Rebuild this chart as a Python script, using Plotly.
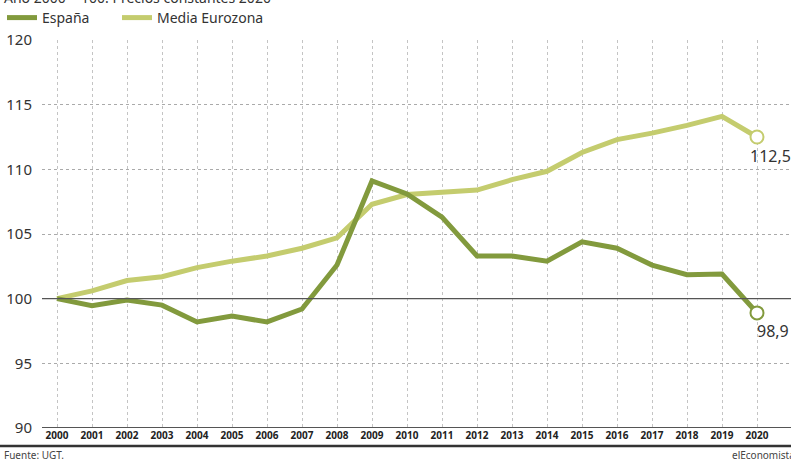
import plotly.graph_objects as go

years = list(range(2000, 2021))
espana = [100, 99.45, 99.9, 99.5, 98.2, 98.65, 98.2, 99.2, 102.6, 109.1, 108.1,
          106.3, 103.3, 103.3, 102.9, 104.4, 103.9, 102.6, 101.85, 101.9, 98.9]
eurozona = [100, 100.6, 101.4, 101.7, 102.4, 102.9, 103.3, 103.9, 104.7, 107.3, 108.05,
            108.2, 108.4, 109.2, 109.85, 111.3, 112.3, 112.8, 113.4, 114.1, 112.5]
end_labels = ["98,9", "112,5"]

c_es = "#829a3d"
c_eu = "#c4cc6e"
W, H = 791, 459


def px(x):
    return x / W


def py(y):
    return 1 - y / H


fig = go.Figure()
fig.add_trace(go.Scatter(x=years, y=eurozona, mode="lines", name="Media Eurozona",
                         legend="legend2", line=dict(color=c_eu, width=5)))
fig.add_trace(go.Scatter(x=years, y=espana, mode="lines", name="España",
                         legend="legend", line=dict(color=c_es, width=5)))
fig.add_trace(go.Scatter(x=[years[-1]], y=[eurozona[-1]], mode="markers", showlegend=False,
                         marker=dict(size=13, color="white", line=dict(color=c_eu, width=2))))
fig.add_trace(go.Scatter(x=[years[-1]], y=[espana[-1]], mode="markers", showlegend=False,
                         marker=dict(size=13, color="white", line=dict(color=c_es, width=2))))

fig.add_annotation(x=years[-1], y=eurozona[-1], text=end_labels[1], showarrow=False,
                   xanchor="left", yanchor="top", xshift=-9, yshift=-6,
                   font=dict(size=16, color="#333333"))
fig.add_annotation(x=years[-1], y=espana[-1], text=end_labels[0], showarrow=False,
                   xanchor="left", yanchor="top", xshift=-2, yshift=-5,
                   font=dict(size=16, color="#333333"))

# line at 100
fig.add_shape(type="line", xref="paper", yref="y", x0=px(42), x1=1, y0=100, y1=100,
              line=dict(color="#555555", width=1.2))
# bottom axis line at 90
fig.add_shape(type="line", xref="paper", yref="y", x0=px(42), x1=1, y0=90, y1=90,
              line=dict(color="#555555", width=2))
# separator
fig.add_shape(type="line", xref="paper", yref="paper", x0=0, x1=1, y0=py(446), y1=py(446),
              line=dict(color="#333333", width=2.5))

fig.add_annotation(xref="paper", yref="paper", x=px(2), y=py(455),
                   text="Fuente: UGT.", showarrow=False, xanchor="left", yanchor="middle",
                   font=dict(size=10, color="#444444"))
fig.add_annotation(xref="paper", yref="paper", x=px(797), y=py(455),
                   text="elEconomista", showarrow=False, xanchor="right", yanchor="middle",
                   font=dict(size=10, color="#444444"))
fig.add_annotation(xref="paper", yref="paper", x=px(2), y=py(-3),
                   text="Año 2000 = 100. Precios constantes 2020", showarrow=False,
                   xanchor="left", yanchor="middle",
                   font=dict(size=14, color="#333333"))

legend_common = dict(orientation="h", yanchor="middle", xanchor="left",
                     font=dict(size=14, color="#333333"), bgcolor="rgba(0,0,0,0)")

fig.update_layout(
    width=W, height=H,
    margin=dict(l=0, r=0, t=0, b=0, autoexpand=False),
    plot_bgcolor="white", paper_bgcolor="white",
    font=dict(family="Noto Sans, sans-serif", color="#333333"),
    legend=dict(x=px(2), y=py(18), **legend_common),
    legend2=dict(x=px(117), y=py(18), **legend_common),
    xaxis=dict(domain=[px(42), 1], range=[2000 - 15 / 35, 2020 + 34 / 35], tickmode="array",
               tickvals=years, ticktext=[f"<b>{y}</b>" for y in years], showgrid=True,
               gridcolor="#c4c4c4", griddash="dot", gridwidth=1, zeroline=False, showline=False,
               ticks="", tickfont=dict(size=10, color="#222222"), tickangle=0,
               automargin=False),
    yaxis=dict(domain=[py(428), py(40)], range=[90, 120], tickvals=[90, 95, 100, 105, 110, 115, 120],
               showgrid=True, gridcolor="#aaaaaa", griddash="dot", gridwidth=1, zeroline=False,
               showline=False, ticks="outside", ticklen=6, tickcolor="rgba(0,0,0,0)",
               tickfont=dict(size=15, color="#333333"), automargin=False),
)

fig.write_html("out.html", config={"displayModeBar": False},
               post_script="document.body.style.margin='0';document.body.style.overflow='hidden';")
